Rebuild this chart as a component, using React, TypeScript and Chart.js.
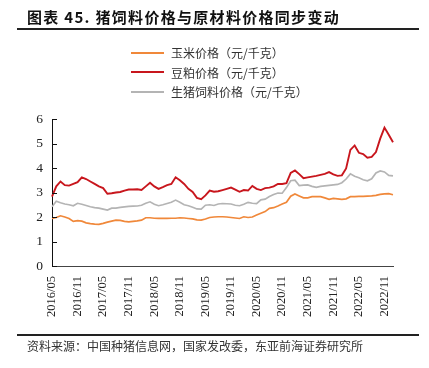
import React, { useEffect, useRef } from "react";
import { Chart, registerables } from "chart.js";

Chart.register(...registerables);

const startYear = 2016;
const startMonth = 5;
const months: string[] = [];
for (let i = 0; i < 81; i++) {
  const m = startMonth - 1 + i;
  const y = startYear + Math.floor(m / 12);
  const mm = (m % 12) + 1;
  months.push(`${y}/${mm < 10 ? "0" + mm : mm}`);
}

const seriesNames = ["玉米价格（元/千克）", "豆粕价格（元/千克）", "生猪饲料价格（元/千克）"];

const cornPrice = [
  1.94, 1.98, 2.05, 2.0, 1.94, 1.82, 1.85, 1.83, 1.76, 1.73,
  1.71, 1.7, 1.74, 1.79, 1.83, 1.87, 1.86, 1.82, 1.8, 1.82,
  1.84, 1.87, 1.97, 1.97, 1.95, 1.94, 1.94, 1.94, 1.95, 1.95,
  1.97, 1.96, 1.94, 1.92, 1.88, 1.87, 1.92, 1.98, 2.0, 2.01,
  2.01, 2.0, 1.98, 1.96, 1.94, 2.01, 1.98, 2.0, 2.08, 2.15,
  2.22, 2.35, 2.38, 2.45, 2.53, 2.6, 2.85, 2.94, 2.86, 2.78,
  2.78, 2.83, 2.83, 2.83, 2.78, 2.72, 2.76, 2.74, 2.72, 2.74,
  2.83, 2.83, 2.84, 2.84, 2.85, 2.86, 2.88, 2.92, 2.94, 2.95,
  2.91,
];

const soyMealPrice = [
  2.83, 3.25, 3.45, 3.3, 3.28, 3.35, 3.42, 3.62, 3.55, 3.45,
  3.35, 3.25, 3.18, 2.95, 2.97, 3.0, 3.02, 3.08, 3.12, 3.12,
  3.13, 3.1, 3.25, 3.4, 3.25, 3.15, 3.22, 3.3, 3.35, 3.62,
  3.5, 3.35, 3.15, 3.02, 2.78, 2.73, 2.88, 3.08, 3.03, 3.05,
  3.1, 3.15, 3.2, 3.12, 3.03, 3.1, 3.08, 3.27, 3.15, 3.1,
  3.18, 3.2, 3.25, 3.35, 3.35, 3.38, 3.8, 3.9, 3.75, 3.58,
  3.62, 3.65, 3.68, 3.72, 3.76, 3.83, 3.74, 3.68, 3.7, 3.98,
  4.74, 4.92, 4.62, 4.57, 4.42, 4.45, 4.65, 5.2, 5.65, 5.36,
  5.05,
];

const pigFeedPrice = [
  2.42, 2.64, 2.58, 2.53, 2.5, 2.46, 2.56, 2.52, 2.47, 2.42,
  2.38, 2.36, 2.32, 2.28, 2.36, 2.36, 2.39, 2.41, 2.43, 2.44,
  2.45, 2.48, 2.56, 2.62, 2.52, 2.46, 2.5, 2.55, 2.6, 2.69,
  2.6, 2.5, 2.46, 2.4, 2.33, 2.32, 2.48, 2.5, 2.47, 2.53,
  2.55, 2.54, 2.53, 2.48, 2.46, 2.52, 2.6, 2.56, 2.55, 2.7,
  2.73, 2.84, 2.92, 2.98, 2.97, 3.2, 3.48, 3.5, 3.28, 3.3,
  3.31, 3.25, 3.21, 3.25, 3.27, 3.29, 3.31, 3.33, 3.4, 3.55,
  3.76, 3.66, 3.6, 3.52, 3.48, 3.56, 3.8, 3.88, 3.84, 3.7,
  3.68,
];

const colors = ["#F0883A", "#C8161D", "#B4B4B4"];

const yTicksIn = {
  id: "yTicksIn",
  afterDraw(chart: any) {
    const y = chart.scales.y;
    const ctx = chart.ctx;
    const left = chart.chartArea.left;
    ctx.save();
    ctx.strokeStyle = "#111";
    ctx.lineWidth = 1;
    y.ticks.forEach((t: any) => {
      const py = Math.round(y.getPixelForValue(t.value)) + 0.5;
      ctx.beginPath();
      ctx.moveTo(left, py);
      ctx.lineTo(left + 5, py);
      ctx.stroke();
    });
    ctx.restore();
  },
};

export default function App() {
  const ref = useRef<HTMLCanvasElement | null>(null);

  useEffect(() => {
    if (!ref.current) return;
    const data = [cornPrice, soyMealPrice, pigFeedPrice];
    const chart = new Chart(ref.current, {
      type: "line",
      data: {
        labels: months,
        datasets: seriesNames.map((n, i) => ({
          label: n,
          data: data[i],
          borderColor: colors[i],
          backgroundColor: colors[i],
          borderWidth: i === 1 ? 1.9 : 1.7,
          pointRadius: 0,
          tension: 0,
          fill: false,
        })),
      },
      options: {
        responsive: false,
        animation: false,
        layout: { padding: { left: 0, top: 119, right: 36, bottom: 0 } },
        plugins: { legend: { display: false }, tooltip: { enabled: false } },
        scales: {
          x: {
            offset: false,
            grid: { display: false, drawTicks: false },
            border: { display: true, color: "#444", width: 1 },
            afterFit: (s: any) => {
              s.height = 102;
            },
            ticks: {
              autoSkip: false,
              maxRotation: 90,
              minRotation: 90,
              padding: 10,
              color: "#222",
              font: { family: "Liberation Serif", size: 12.5 },
              callback: (_v: any, idx: number) => (idx % 6 === 0 ? months[idx] : ""),
            },
          },
          y: {
            min: 0,
            max: 6,
            grid: { display: false, drawTicks: false },
            border: { display: true, color: "#111", width: 1 },
            afterFit: (s: any) => {
              s.width = 52;
            },
            ticks: {
              stepSize: 1,
              padding: 9,
              color: "#222",
              font: { family: "Liberation Serif", size: 13.5 },
            },
          },
        },
      },
      plugins: [yTicksIn],
    });
    return () => chart.destroy();
  }, []);

  const cjk = "'Noto Sans CJK SC', sans-serif";

  return (
    <div style={{ position: "absolute", left: 0, top: 0, width: 429, height: 368, background: "#fff", overflow: "hidden" }}>
      <canvas ref={ref} width={429} height={368} style={{ position: "absolute", left: 0, top: 0, width: 429, height: 368 }} />
      <div
        style={{
          position: "absolute",
          left: 27,
          top: 6,
          fontFamily: cjk,
          fontWeight: 700,
          fontSize: 15,
          letterSpacing: 1.3,
          lineHeight: "22px",
          color: "#111",
          whiteSpace: "nowrap",
        }}
      >
        图表 45. 猪饲料价格与原材料价格同步变动
      </div>
      <div style={{ position: "absolute", left: 17, top: 28, width: 402, height: 1.5, background: "#222" }} />
      {seriesNames.map((n, i) => (
        <div key={n} style={{ position: "absolute", left: 131, top: 43 + i * 19.5, height: 19, display: "flex", alignItems: "center" }}>
          <div style={{ width: 33, height: 2, background: colors[i] }} />
          <div style={{ marginLeft: 7, fontFamily: cjk, fontSize: 12, color: "#333", whiteSpace: "nowrap" }}>{n}</div>
        </div>
      ))}
      <div style={{ position: "absolute", left: 17, top: 334, width: 402, height: 1.5, background: "#222" }} />
      <div
        style={{
          position: "absolute",
          left: 27,
          top: 337,
          fontFamily: cjk,
          fontSize: 12,
          lineHeight: "17px",
          color: "#333",
          whiteSpace: "nowrap",
        }}
      >
        资料来源：中国种猪信息网，国家发改委，东亚前海证券研究所
      </div>
    </div>
  );
}
